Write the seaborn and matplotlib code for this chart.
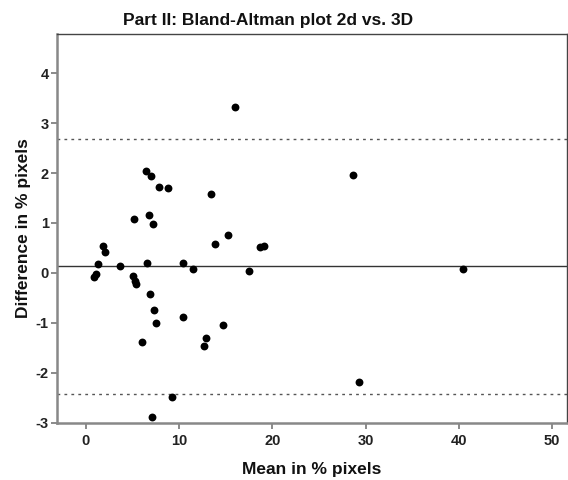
import matplotlib
matplotlib.use("Agg")
import matplotlib.pyplot as plt
import seaborn as sns
import pandas as pd

# Bland-Altman data: mean and difference (in % pixels)
mean_vals = [16.0, 6.4, 7.0, 7.8, 8.8, 13.4, 5.2, 6.8, 7.2, 15.2, 13.9, 1.85, 2.1,
             18.7, 19.1, 28.7, 1.25, 1.05, 0.9, 3.7, 6.6, 10.4, 11.5, 17.5,
             5.0, 5.25, 5.35, 6.9, 7.3, 7.55, 10.4, 14.7, 6.05, 12.9, 12.65,
             9.2, 7.1, 29.3, 40.5]
diff_vals = [3.33, 2.04, 1.94, 1.73, 1.70, 1.57, 1.08, 1.16, 0.97, 0.76, 0.57, 0.53, 0.41,
             0.52, 0.53, 1.97, 0.17, -0.03, -0.09, 0.13, 0.20, 0.19, 0.07, 0.03,
             -0.07, -0.17, -0.22, -0.43, -0.74, -1.01, -0.88, -1.04, -1.38, -1.31, -1.46,
             -2.48, -2.88, -2.18, 0.07]

bias = 0.13
upper_loa = 2.69
lower_loa = -2.42

df = pd.DataFrame({"mean": mean_vals, "diff": diff_vals})

sns.set_style("white")
plt.rcParams["font.family"] = ["Liberation Sans", "DejaVu Sans"]
plt.rcParams["axes.unicode_minus"] = False

fig = plt.figure(figsize=(5.68, 4.80), dpi=100)
ax = fig.add_axes([0.1004, 0.119, 0.8976, 0.81])

sns.scatterplot(data=df, x="mean", y="diff", color="black", s=32,
                edgecolor="black", linewidth=0, ax=ax, zorder=3)

ax.axhline(bias, color="#333333", linewidth=1.0)
ax.axhline(upper_loa, color="#555555", linewidth=1.0, linestyle=(0, (2, 3)))
ax.axhline(lower_loa, color="#555555", linewidth=1.0, linestyle=(0, (2, 3)))

ax.set_xlim(-3.1, 51.6)
ax.set_ylim(-3.0, 4.78)
ax.set_xticks([0, 10, 20, 30, 40, 50])
ax.set_yticks([-3, -2, -1, 0, 1, 2, 3, 4])

fig.text(0.472, 0.958, "Part II: Bland-Altman plot 2d vs. 3D", fontsize=12.5,
         fontweight="bold", color="#111111", ha="center", va="center")
ax.set_xlabel("Mean in % pixels", fontsize=12.5, fontweight="bold", labelpad=10,
              color="#111111")
ax.set_ylabel("Difference in % pixels", fontsize=12.5, fontweight="bold", labelpad=3,
              color="#111111")

ax.tick_params(axis="x", pad=4)
ax.tick_params(axis="y", pad=2)
ax.tick_params(axis="both", direction="out", length=4, width=1.2, color="#777777",
               labelsize=10.5, left=True, bottom=True)
for lab in ax.get_xticklabels() + ax.get_yticklabels():
    lab.set_color("#222222")
    lab.set_fontweight("bold")

for side in ["left", "bottom"]:
    ax.spines[side].set_linewidth(1.8)
    ax.spines[side].set_color("#888888")
for side in ["top", "right"]:
    ax.spines[side].set_linewidth(1.0)
    ax.spines[side].set_color("#444444")

fig.savefig("out.png", dpi=100)
